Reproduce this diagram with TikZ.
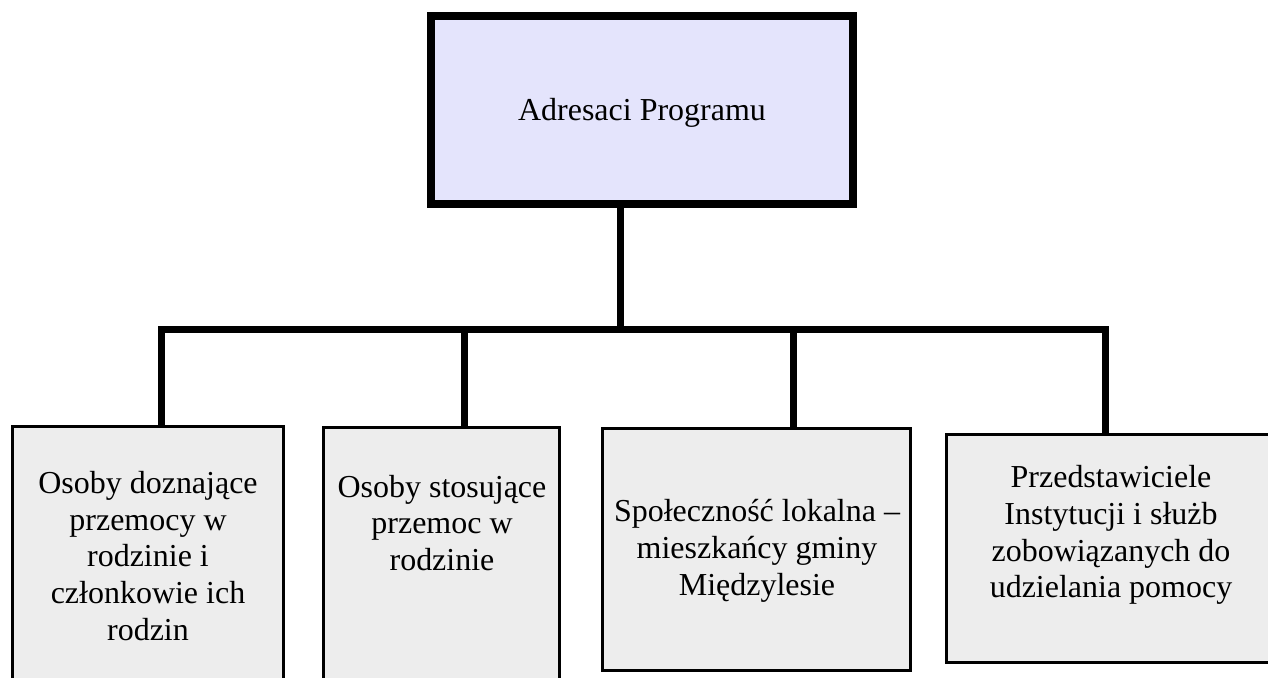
\documentclass[tikz,border=0pt]{standalone}
\usepackage{fontspec}
\setmainfont{Liberation Serif}
\usepackage{tikz}
\usetikzlibrary{positioning}
\usepackage{xcolor}
\definecolor{headfill}{RGB}{228,228,252}
\definecolor{groupfill}{RGB}{237,237,237}

\begin{document}
\begin{tikzpicture}[
    x=0.02cm, y=-0.02cm,
    headbox/.style={
        rectangle, draw=black, line width=0.16cm, fill=headfill,
        minimum width=8.44cm, minimum height=3.76cm, inner sep=0pt
    },
    groupbox/.style={
        rectangle, draw=black, line width=0.06cm, fill=groupfill, inner sep=0pt
    },
    txt/.style={font=\fontsize{18.2}{21}\selectfont, align=center, inner sep=0pt},
    link/.style={line width=0.14cm, line join=miter}
]

\clip (0,0) rectangle (1268,678);

% Head
\node[headbox] (head) at (642,110) {};
\node[txt] (headtxt) at (642,113) {Adresaci Programu};

% Groups
\node[groupbox, minimum width=5.42cm, minimum height=5.47cm] (b1) at (148,563.25) {};
\node[groupbox, minimum width=4.72cm, minimum height=5.45cm] (b2) at (441.5,563.75) {};
\node[groupbox, minimum width=6.16cm, minimum height=4.84cm] (b3) at (756.5,549.5) {};
\node[groupbox, minimum width=6.61cm, minimum height=4.56cm] (b4) at (1111.75,548.5) {};

\node[txt] (t1) at (148,556) {Osoby doznające\\przemocy w\\rodzinie i\\członkowie ich\\rodzin};
\node[txt] (t2) at (442,523) {Osoby stosujące\\przemoc w\\rodzinie};
\node[txt] (t3) at (757,551) {Społeczność lokalna –\\mieszkańcy gminy\\Międzylesie};
\node[txt] (t4) at (1111,535) {Przedstawiciele\\Instytucji i służb\\zobowiązanych do\\udzielania pomocy};

% Connectors
\coordinate (trunk) at (620.5,330);
\coordinate (j1) at (161.5,330);
\coordinate (j2) at (464.5,330);
\coordinate (j3) at (793,330);
\coordinate (j4) at (1105,330);

\draw[link] (trunk |- head.south) -- (trunk);
\draw[link] (j1 |- b1.north) -- (j1) -- (j4) -- (j4 |- b4.north);
\draw[link] (j2) -- (j2 |- b2.north);
\draw[link] (j3) -- (j3 |- b3.north);

\end{tikzpicture}
\end{document}
